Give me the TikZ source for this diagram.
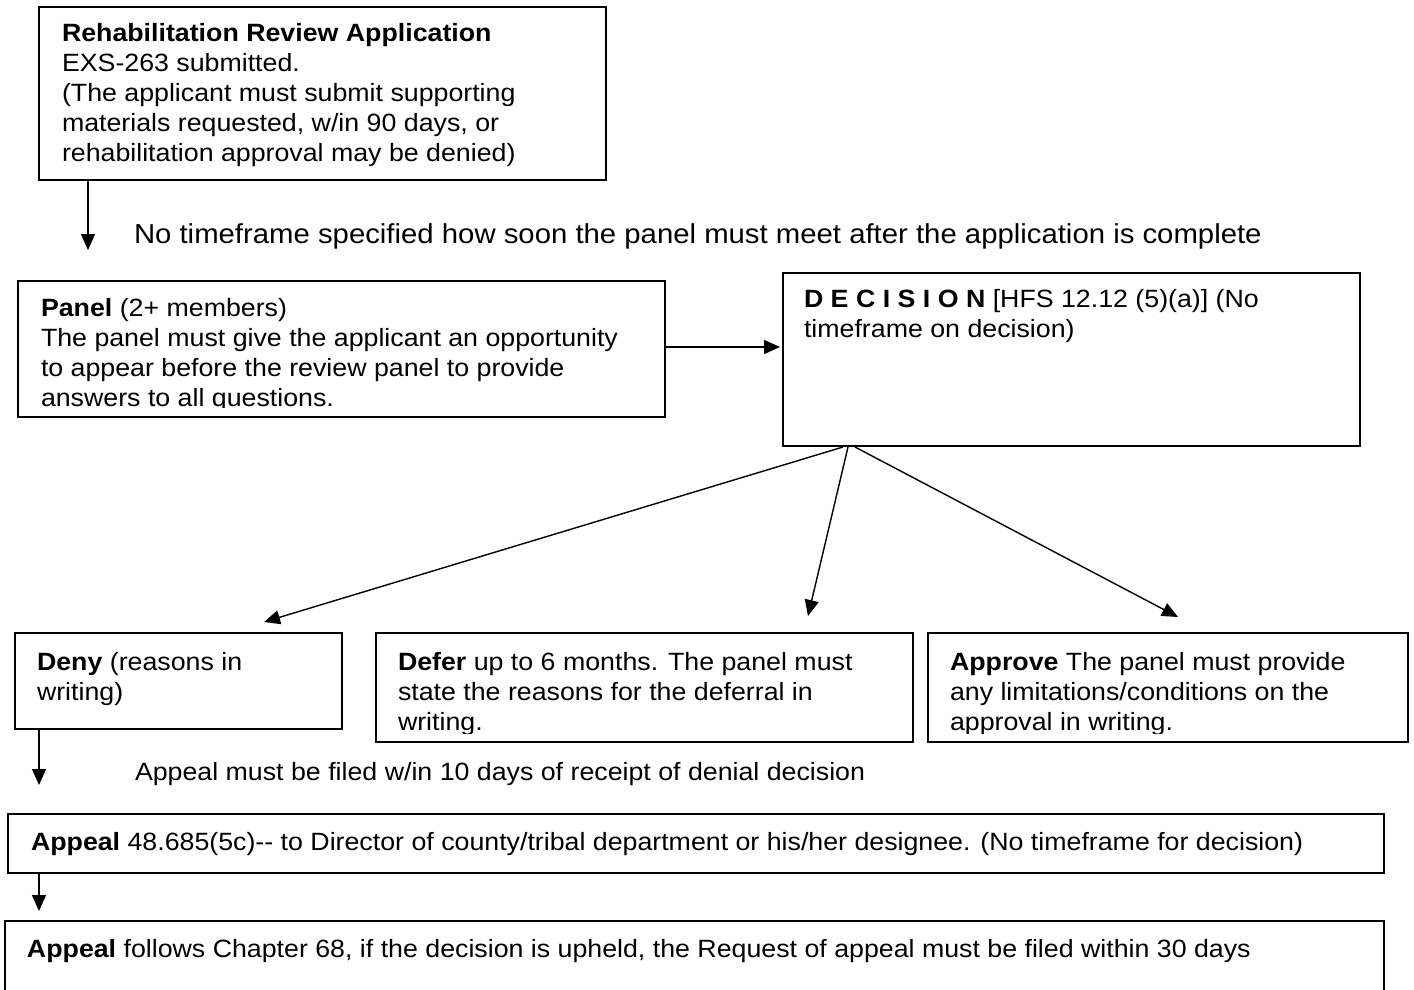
\documentclass[tikz,border=0pt]{standalone}
\usepackage{fontspec}
\setmainfont{Liberation Sans}[FakeStretch=1.07]
\usetikzlibrary{arrows.meta}
\newcommand\bxfont{\fontsize{25}{30}\selectfont}
\newcommand\lblfont{\fontsize{27.4}{32}\selectfont}
\newcommand\fs{\rule{0pt}{20pt}}
\begin{document}
\begin{tikzpicture}[x=1pt,y=-1pt,
  box/.style={draw=black,line width=1.6pt,rectangle,inner sep=0pt,outer sep=0pt},
  txt/.style={anchor=north west,inner sep=0pt,outer sep=0pt,align=left,font=\bxfont},
  lbl/.style={anchor=north west,inner sep=0pt,outer sep=0pt,align=left,font=\lblfont},
  arr/.style={line width=1.4pt,-{Triangle[length=16pt,width=14pt]}}]
\useasboundingbox (0,0) rectangle (1414,990);
\clip (0,0) rectangle (1414,990);
\fill[white] (0,0) rectangle (1414,990);
% boxes
\node[box,minimum width=567pt,minimum height=173pt] (rehab) at (322.5,93.5) {};
\node[box,minimum width=647pt,minimum height=136pt] (panel) at (341.5,349) {};
\node[box,minimum width=577pt,minimum height=173pt] (decision) at (1071.5,359.5) {};
\node[box,minimum width=327pt,minimum height=96pt] (deny) at (178.5,681) {};
\node[box,minimum width=537pt,minimum height=109pt] (defer) at (644.5,687.5) {};
\node[box,minimum width=480pt,minimum height=109pt] (approve) at (1168,687.5) {};
\node[box,minimum width=1376pt,minimum height=59pt] (appeal1) at (696,843.5) {};
\node[box,minimum width=1379pt,minimum height=89pt] (appeal2) at (694.5,965.5) {};
% texts (clipped like text boxes)
\begin{scope}
\clip (39,7) rectangle (606,167);
\node[txt] (rehabT) at (62,21) {\fs\textbf{Rehabilitation Review Application}\\EXS-263 submitted.\\(The applicant must submit supporting\\materials requested, w/in 90 days, or\\rehabilitation approval may be denied)};
\end{scope}
\begin{scope}
\clip (18,281) rectangle (665,407);
\node[txt] (panelT) at (41,296) {\fs\textbf{Panel} (2+ members)\\The panel must give the applicant an opportunity\\to appear before the review panel to provide\\answers to all questions.};
\end{scope}
\node[txt] (decisionT) at (804,287) {\fs\textbf{D E C I S I O N} [HFS 12.12 (5)(a)] (No\\timeframe on decision)};
\node[txt] (denyT) at (37,650) {\fs\textbf{Deny} (reasons in\\writing)};
\begin{scope}
\clip (376,633) rectangle (913,733);
\node[txt] (deferT) at (398,650) {\fs\textbf{Defer} up to 6 months. The panel must\\state the reasons for the deferral in\\writing.};
\end{scope}
\begin{scope}
\clip (928,633) rectangle (1408,733);
\node[txt] (approveT) at (950,650) {\fs\textbf{Approve} The panel must provide\\any limitations/conditions on the\\approval in writing.};
\end{scope}
\node[txt] (appeal1T) at (31,830) {\fs\textbf{Appeal} 48.685(5c){-}{-} to Director of county/tribal department or his/her designee. (No timeframe for decision)};
\node[txt] (appeal2T) at (27,937) {\fs\textbf{Appeal} follows Chapter 68, if the decision is upheld, the Request of appeal must be filed within 30 days};
% labels
\node[lbl] (lbl1) at (134,223) {\fs No timeframe specified how soon the panel must meet after the application is complete};
\node[txt] (lbl2) at (135,760) {\fs Appeal must be filed w/in 10 days of receipt of denial decision};
% connectors
\coordinate (t1) at (88,250);
\draw[arr] (t1 |- rehab.south) -- (t1);
\coordinate (t2) at (780,347);
\draw[arr] (panel.east |- t2) -- (t2);
\coordinate (s3) at (843,447);
\coordinate (t3) at (264,622);
\draw[arr] (s3) -- (t3);
\coordinate (s4) at (848,447);
\coordinate (t4) at (808,616);
\draw[arr] (s4) -- (t4);
\coordinate (s5) at (855,447);
\coordinate (t5) at (1178,617);
\draw[arr] (s5) -- (t5);
\coordinate (t6) at (39,785);
\draw[arr] (t6 |- deny.south) -- (t6);
\coordinate (t7) at (39,911);
\draw[arr] (t7 |- appeal1.south) -- (t7);
\end{tikzpicture}
\end{document}
